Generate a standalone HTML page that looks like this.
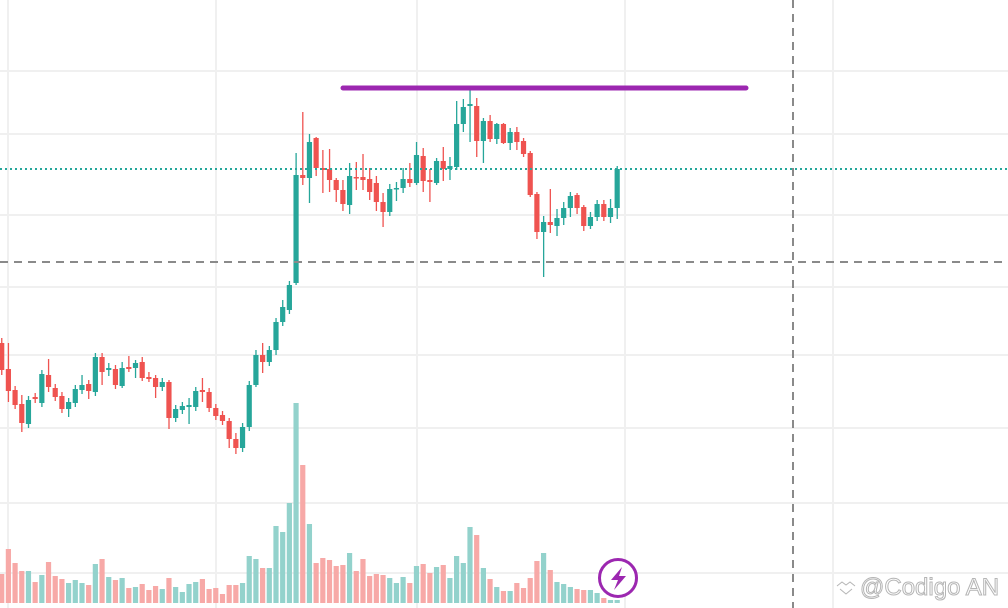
<!DOCTYPE html>
<html><head><meta charset="utf-8"><style>
html,body{margin:0;padding:0;background:#fff;width:1008px;height:608px;overflow:hidden}
svg{display:block}
</style></head><body>
<svg id="s" width="1008" height="608" viewBox="0 0 1008 608" xmlns="http://www.w3.org/2000/svg">
<g stroke="#f0f0f0" stroke-width="2">
<line x1="8" y1="0" x2="8" y2="608"/><line x1="216" y1="0" x2="216" y2="608"/><line x1="417" y1="0" x2="417" y2="608"/><line x1="625" y1="0" x2="625" y2="608"/><line x1="833" y1="0" x2="833" y2="608"/>
<line x1="0" y1="71" x2="1008" y2="71"/><line x1="0" y1="134" x2="1008" y2="134"/><line x1="0" y1="215" x2="1008" y2="215"/><line x1="0" y1="287" x2="1008" y2="287"/><line x1="0" y1="355" x2="1008" y2="355"/><line x1="0" y1="428" x2="1008" y2="428"/><line x1="0" y1="503" x2="1008" y2="503"/><line x1="0" y1="573" x2="1008" y2="573"/>
</g>
<g id="vol"></g>
<g id="cdl"></g>
<line x1="0" y1="169" x2="1008" y2="169" stroke="#26a69a" stroke-width="2" stroke-dasharray="2,3"/>
<line x1="0" y1="262" x2="1008" y2="262" stroke="#8a8a8a" stroke-width="2" stroke-dasharray="8,6"/>
<line x1="793" y1="0" x2="793" y2="608" stroke="#8a8a8a" stroke-width="2" stroke-dasharray="8,6"/>
<line x1="343" y1="88" x2="746" y2="88" stroke="#9c27b0" stroke-width="5" stroke-linecap="round"/>
<circle cx="618" cy="578" r="18.5" fill="#fff" stroke="#9c27b0" stroke-width="3"/>
<path d="M622 567 L611 580 L618 580 L614 590 L626 576 L619 576 Z" fill="#9c27b0"/>
<g fill="#fff" stroke="#b5b5b5" stroke-width="1">
<path d="M837 586 l5 -4 l4 3 l4 -3 l5 4 M840 589 l6 5 l6 -5" fill="none"/>
<text x="860" y="595" font-family="Liberation Sans, sans-serif" font-size="24">@Codigo AN</text>
</g>
</svg>
<script>
var C=[[343,370,'r',338,375],[369,391,'r',343,402],[390,405,'r'],[404,423,'r',395,432],[400,424,'g'],[397,399,'r'],[374,403,'g'],[375,387,'r',359,392],[388,397,'r'],[396,409,'r'],[402,409,'g',398,417],[389,403,'g'],[385,390,'g',375,394],[384,391,'r',380,399],[357,392,'g'],[357,372,'r',353,385],[368,370,'g',363,376],[369,385,'r'],[368,386,'g',362,388],[367,369,'r',356,372],[363,368,'g',360,378],[362,378,'r',357,381],[377,379,'r',372,382],[378,387,'r',375,398],[382,387,'g'],[382,418,'r',380,429],[409,418,'g'],[406,410,'g'],[405,407,'g',398,424],[391,407,'g'],[390,392,'r',378,402],[392,408,'r'],[408,416,'r'],[415,421,'r'],[421,439,'r',418,448],[439,448,'r',433,454],[427,448,'g'],[385,427,'g'],[355,385,'g',350,387],[355,362,'r',343,373],[350,362,'g'],[322,350,'g',318,355],[307,322,'g',300,326],[285,310,'g'],[175,283,'g',153,285],[175,178,'r',112,185],[142,178,'g',134,203],[138,168,'r',137,176],[168,170,'r',150,193],[169,180,'r',149,192],[180,190,'r',178,202],[190,204,'r',180,211],[176,205,'g',163,214],[177,178,'r',162,190],[177,180,'r',154,190],[179,192,'r',168,200],[183,202,'r',176,211],[202,212,'r',193,227],[189,212,'g',184,216],[188,189,'g',182,201],[179,188,'g',168,193],[179,183,'r',163,187],[155,183,'g',142,185],[156,181,'r',148,192],[180,182,'r',169,202],[161,183,'g',158,185],[161,169,'r',147,181],[166,169,'g',157,180],[124,167,'g',101,170],[107,124,'g',99,132],[104,106,'g',87,142],[106,141,'r',98,157],[121,141,'g',118,163],[121,139,'r',115,142],[124,139,'g',123,144],[124,143,'r',123,144],[132,143,'g',128,150],[132,142,'r',127,150],[141,154,'r',138,157],[153,195,'r',151,197],[194,232,'r',192,239],[222,232,'g',216,277],[222,225,'r',189,233],[218,226,'g',209,236],[208,218,'g',202,225],[196,208,'g',192,217],[195,208,'r',193,214],[207,226,'r',205,231],[217,226,'g',212,229],[204,217,'g',200,221],[204,217,'r',200,221],[208,217,'g',199,223],[169,208,'g',166,219]];
var V=[574,549,563,571,571,582,575,562,576,579,583,580,583,585,564,559,577,580,578,588,587,584,590,586,589,578,587,592,584,582,579,589,588,594,585,585,583,556,559,568,568,526,532,503,403,465,524,563,558,560,566,565,553,571,559,576,574,575,578,583,577,583,566,564,573,567,565,578,556,563,527,535,568,579,587,591,591,583,588,578,561,553,570,582,584,587,589,590,590,593,598,600,600];
var ns='http://www.w3.org/2000/svg',cg=document.getElementById('cdl'),vg=document.getElementById('vol');
function el(g,t,a){var e=document.createElementNS(ns,t);for(var k in a)e.setAttribute(k,a[k]);g.appendChild(e);}
for(var i=0;i<C.length;i++){var c=C[i],x=1.7+6.69*i,col=c[2]=='g'?'#26a69a':'#ef5350';
var wt=c[3]!==undefined?c[3]:c[0]-4,wb=c[4]!==undefined?c[4]:c[1]+4;
el(cg,'rect',{x:x-0.6,y:wt,width:1.3,height:wb-wt,fill:col});
el(cg,'rect',{x:x-2.6,y:c[0],width:5.2,height:Math.max(1.5,c[1]-c[0]),fill:col});
var v=V[i];if(v!==undefined)el(vg,'rect',{x:x-2.6,y:v,width:5.2,height:603-v,fill:c[2]=='g'?'#93d2cc':'#f7a9a7'});}
</script>
</body></html>
